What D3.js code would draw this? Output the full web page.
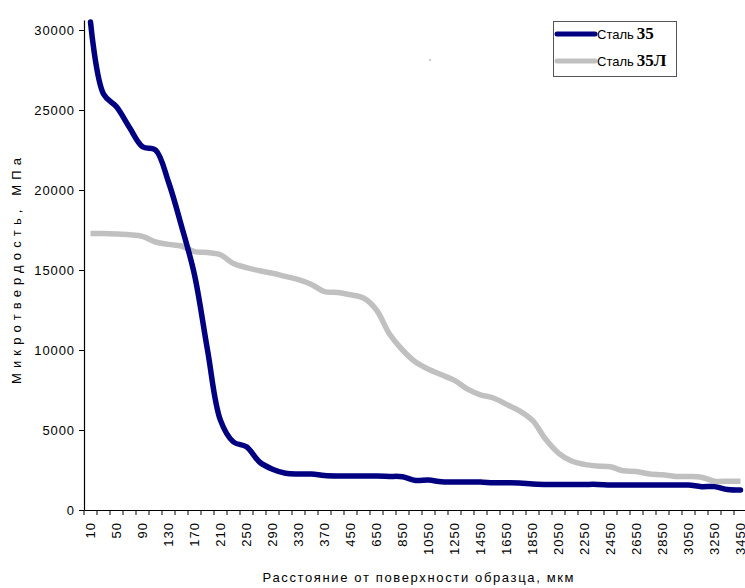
<!DOCTYPE html>
<html>
<head>
<meta charset="utf-8">
<script src="https://cdnjs.cloudflare.com/ajax/libs/d3/7.8.5/d3.min.js"></script>
<style>
  body { margin: 0; background: #fff; }
  svg text { font-family: "Liberation Sans", Arial, sans-serif; fill: #000; }
</style>
</head>
<body>
<svg id="chart" width="745" height="588"></svg>
<script>
// Distance from the surface, um (category axis)
const categories = [10, 30, 50, 70, 90, 110, 130, 150, 170, 190, 210, 230, 250, 270, 290, 310, 330, 350, 370,
    410, 450, 550, 650, 750, 850, 950, 1050, 1150, 1250, 1350, 1450, 1550, 1650, 1750, 1850, 1950,
    2050, 2150, 2250, 2350, 2450, 2550, 2650, 2750, 2850, 2950, 3050, 3150, 3250, 3350, 3450];

// Microhardness, MPa
const steel35 = [30500, 26000, 25200, 23900, 22700, 22500, 20500, 17750, 14700, 10000, 5600, 4250, 3950, 3000, 2550,
    2300, 2250, 2250, 2150, 2120, 2120, 2120, 2120, 2100, 2080, 1850, 1870, 1760, 1750, 1750, 1750, 1700,
    1700, 1690, 1620, 1600, 1600, 1600, 1600, 1600, 1560, 1560, 1560, 1560, 1560, 1560, 1560, 1460,
    1460, 1280, 1250];

const steel35L = [17280, 17280, 17250, 17200, 17100, 16750, 16600, 16500, 16150, 16100, 15950, 15400, 15150, 14950,
    14800, 14600, 14400, 14100, 13650, 13600, 13450, 13250, 12500, 11000, 10000, 9250, 8800, 8450, 8100,
    7550, 7200, 7000, 6600, 6200, 5600, 4440, 3560, 3060, 2850, 2750, 2700, 2450, 2400, 2250, 2200,
    2100, 2100, 2050, 1800, 1800, 1800];

const yTicks = [0, 5000, 10000, 15000, 20000, 25000, 30000];
const seriesNames = ['Сталь', 'Сталь'];
const seriesSuffix = ['35', '35Л'];
const seriesColors = ['#000080', '#c0c0c0'];

const svg = d3.select('#chart');
const plotLeft = 84, plotRight = 747, plotTop = 20, plotBottom = 510;

const x = d3.scaleBand()
    .domain(categories)
    .range([plotLeft, plotRight])
    .padding(0);
const y = d3.scaleLinear()
    .domain([0, 30625])
    .range([plotBottom, plotTop]);
const bw = x.bandwidth();

// Y axis
const yAxis = svg.append('g')
    .attr('transform', `translate(${plotLeft},0)`)
    .call(d3.axisLeft(y)
        .tickValues(yTicks)
        .tickFormat(d3.format('d'))
        .tickSize(5)
        .tickSizeOuter(0)
        .tickPadding(4));
yAxis.select('.domain').attr('stroke', '#000').attr('stroke-width', 1.2);
yAxis.selectAll('.tick line').attr('stroke', '#000');
yAxis.selectAll('.tick text')
    .style('font-size', '13px')
    .style('letter-spacing', '0.9px');

// X axis: labels on every other category
const xAxis = svg.append('g')
    .attr('transform', `translate(0,${plotBottom})`)
    .call(d3.axisBottom(x)
        .tickValues(categories.filter((d, i) => i % 2 === 0))
        .tickSize(0)
        .tickSizeOuter(0));
xAxis.select('.domain').attr('stroke', '#000').attr('stroke-width', 1.2);
xAxis.selectAll('.tick text')
    .attr('transform', 'rotate(-90)')
    .attr('text-anchor', 'end')
    .attr('x', -12)
    .attr('y', 0)
    .attr('dy', '0.35em')
    .style('font-size', '13px')
    .style('letter-spacing', '1px');

// tick marks at category boundaries
svg.append('g')
    .selectAll('line')
    .data(categories)
    .join('line')
    .attr('x1', d => x(d))
    .attr('x2', d => x(d))
    .attr('y1', plotBottom)
    .attr('y2', plotBottom + 5)
    .attr('stroke', '#000');

// Axis titles
svg.append('text')
    .attr('x', 418)
    .attr('y', 582)
    .attr('text-anchor', 'middle')
    .attr('textLength', 311)
    .attr('lengthAdjust', 'spacing')
    .style('font-size', '13px')
    .text('Расстояние от поверхности образца, мкм');

svg.append('text')
    .attr('transform', 'translate(21,271) rotate(-90)')
    .attr('text-anchor', 'middle')
    .attr('textLength', 226)
    .attr('lengthAdjust', 'spacing')
    .style('font-size', '13px')
    .text('Микротвердость, МПа');

// Lines
const line = d3.line()
    .x((d, i) => x(categories[i]) + bw / 2)
    .y(d => y(d))
    .curve(d3.curveCatmullRom.alpha(0.5));

svg.append('path')
    .datum(steel35L)
    .attr('fill', 'none')
    .attr('stroke', seriesColors[1])
    .attr('stroke-width', 5.5)
    .attr('stroke-linejoin', 'round')
    .attr('d', line);

svg.append('path')
    .datum(steel35)
    .attr('fill', 'none')
    .attr('stroke', seriesColors[0])
    .attr('stroke-width', 5.5)
    .attr('stroke-linejoin', 'round')
    .attr('stroke-linecap', 'round')
    .attr('d', line);

// Legend
const legend = svg.append('g');
legend.append('rect')
    .attr('x', 553.5).attr('y', 21.5)
    .attr('width', 123).attr('height', 55)
    .attr('fill', '#fff')
    .attr('stroke', '#555');

seriesNames.forEach((name, i) => {
    const ly = 34 + i * 27;
    legend.append('line')
        .attr('x1', 557).attr('x2', 595)
        .attr('y1', ly).attr('y2', ly)
        .attr('stroke', seriesColors[i])
        .attr('stroke-width', 5)
        .attr('stroke-linecap', 'round');
    const t = legend.append('text')
        .attr('x', 597)
        .attr('y', ly + 5)
        .style('font-size', '13px');
    t.append('tspan').text(name);
    t.append('tspan')
        .attr('dx', 3)
        .style('font-family', '"Liberation Serif", "Times New Roman", serif')
        .style('font-weight', 'bold')
        .style('font-size', '17px')
        .text(seriesSuffix[i]);
});

// stray dot in the original
svg.append('circle')
    .attr('cx', 430).attr('cy', 60).attr('r', 0.8)
    .attr('fill', '#888');
</script>
</body>
</html>
